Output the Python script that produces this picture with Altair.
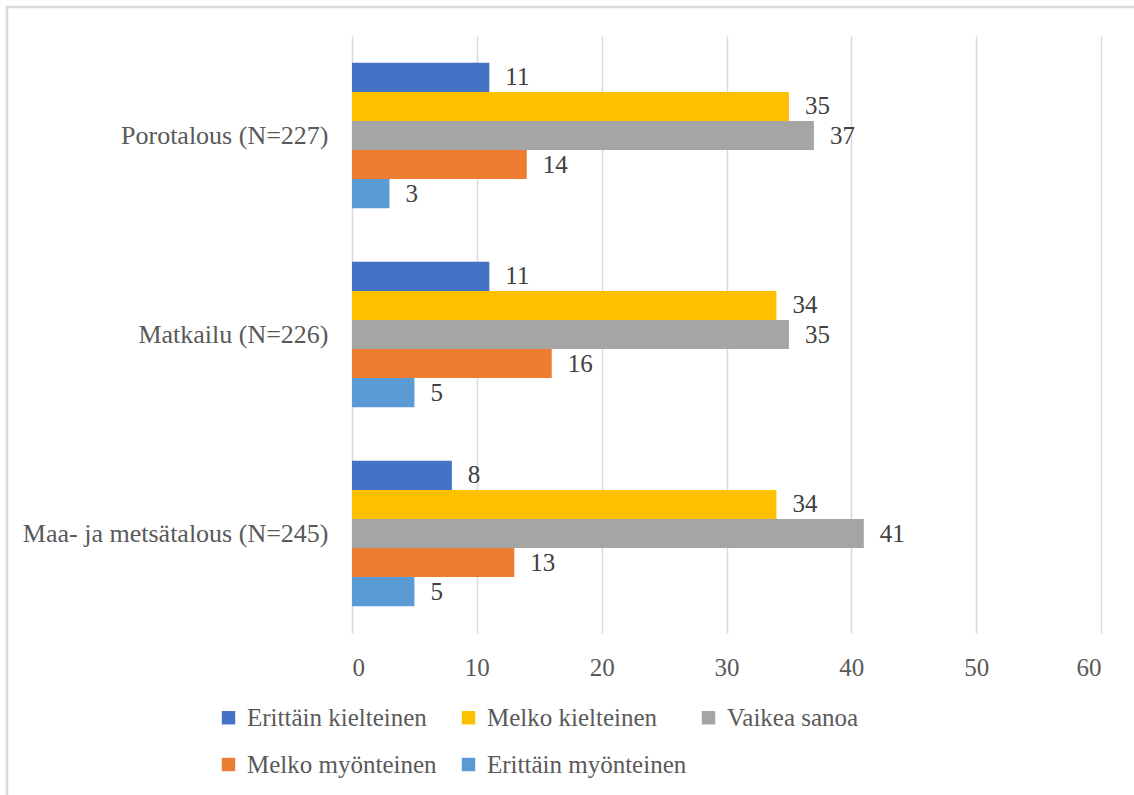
import altair as alt
import pandas as pd

categories = ["Porotalous (N=227)", "Matkailu (N=226)", "Maa- ja metsätalous (N=245)"]
series = ["Erittäin kielteinen", "Melko kielteinen", "Vaikea sanoa", "Melko myönteinen", "Erittäin myönteinen"]
colors = ["#4472C4", "#FFC000", "#A5A5A5", "#ED7D31", "#5B9BD5"]
values = {
    "Porotalous (N=227)": [11, 35, 37, 14, 3],
    "Matkailu (N=226)": [11, 34, 35, 16, 5],
    "Maa- ja metsätalous (N=245)": [8, 34, 41, 13, 5],
}
x_ticks = [0, 10, 20, 30, 40, 50, 60]

rows = []
for c in categories:
    for s, v in zip(series, values[c]):
        rows.append({"category": c, "series": s, "value": v})
df = pd.DataFrame(rows)

FONT = "Liberation Serif"
FS = 25

y_enc = alt.Y("category:N", sort=categories, title=None,
              scale=alt.Scale(paddingInner=0.27, paddingOuter=0.135),
              axis=alt.Axis(domain=False, ticks=False, labelPadding=24, labelLimit=500,
                            labelFont=FONT, labelFontSize=26, labelColor="#595959"))
yoff = alt.YOffset("series:N", sort=series, scale=alt.Scale(paddingInner=0, paddingOuter=0))
x_enc = alt.X("value:Q", title=None,
              scale=alt.Scale(domain=[0, 60], nice=False),
              axis=alt.Axis(values=x_ticks, domain=False, ticks=False, grid=True,
                            gridColor="#D9D9D9", gridWidth=1.5, labelPadding=22,
                            labelFont=FONT, labelFontSize=FS, labelColor="#595959"))

bars = alt.Chart(df).mark_bar().encode(
    x=x_enc, y=y_enc, yOffset=yoff,
    color=alt.Color("series:N", sort=series,
                    scale=alt.Scale(domain=series, range=colors),
                    legend=alt.Legend(title=None, orient="none", legendX=-136, legendY=669,
                                      direction="horizontal", columns=3, gridAlign="all",
                                      columnPadding=9, rowPadding=21, padding=0,
                                      symbolType="square", symbolSize=180, symbolStrokeWidth=0,
                                      labelFont=FONT, labelFontSize=FS, labelColor="#595959",
                                      labelOffset=6, labelLimit=400))
)

labels = alt.Chart(df).mark_text(align="left", baseline="middle", dx=16,
                                 font=FONT, fontSize=FS, color="#404040").encode(
    x=alt.X("value:Q"), y=alt.Y("category:N", sort=categories), yOffset=yoff,
    text=alt.Text("value:Q")
)

frame = alt.Chart(pd.DataFrame({"a": [0]})).mark_rect(
    fill=None, stroke="#D9D9D9", strokeWidth=2.5).encode(
    x=alt.value(-345), x2=alt.value(900), y=alt.value(-29), y2=alt.value(900)
)

chart = alt.layer(frame, bars, labels).properties(
    width=749, height=597,
    autosize=alt.AutoSizeParams(type="none"),
    padding={"left": 352, "top": 36, "right": 33, "bottom": 162},
    background="white",
).configure_view(stroke=None)

chart.save("out.html", embed_options={"renderer": "svg", "actions": False})
